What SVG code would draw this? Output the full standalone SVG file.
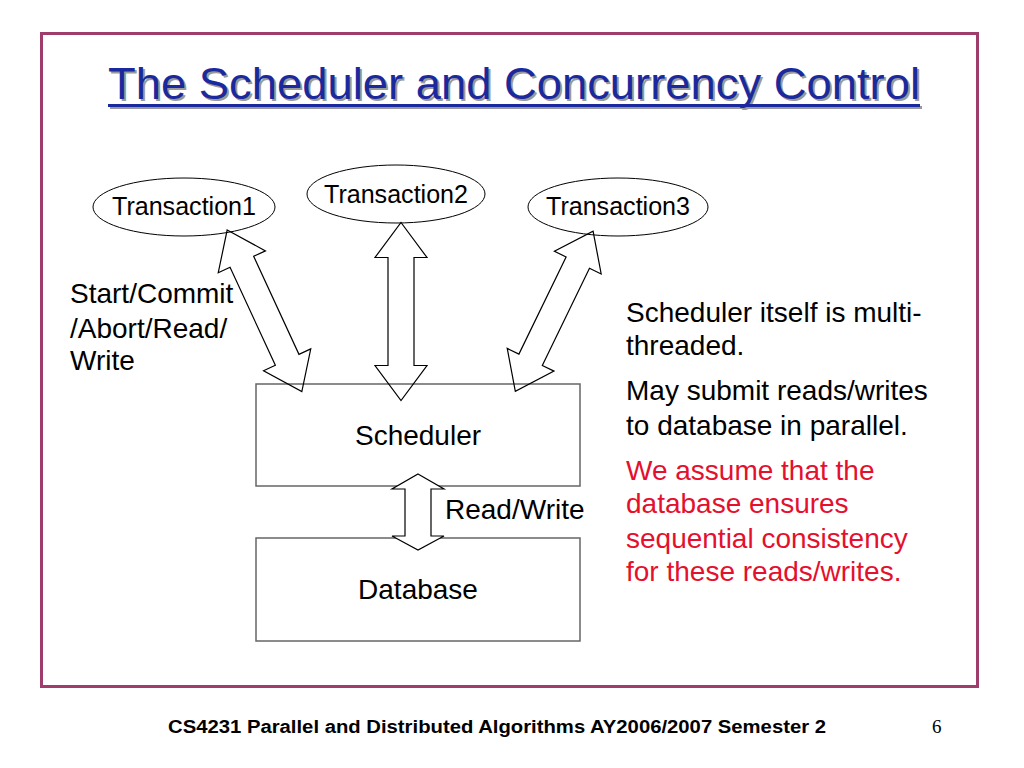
<svg xmlns="http://www.w3.org/2000/svg" width="1024" height="768" viewBox="0 0 1024 768">
<defs>
<style>
.t{font-family:"Liberation Sans",Arial,sans-serif;fill:#000}
.lbl{font-size:28px}
.tr{font-size:25px;text-anchor:middle}
.red{fill:#E4102E}
.ell{fill:none;stroke:#000;stroke-width:1}
.box{fill:none;stroke:#666;stroke-width:1.5}
.arr{fill:none;stroke:#000;stroke-width:1.2;stroke-linejoin:miter}
.arrw{fill:#fff;stroke:#000;stroke-width:1.2}
</style>
<path id="dbl" d="M0,-89 L26,-54 L13,-54 L13,54 L26,54 L0,89 L-26,54 L-13,54 L-13,-54 L-26,-54 Z"/>
</defs>
<rect width="1024" height="768" fill="#fff"/>
<rect x="41.5" y="33.5" width="936" height="653" fill="none" stroke="#9E3C6C" stroke-width="3"/>
<g id="title">
<text x="110" y="101" class="t" style="font-size:45px;fill:#9a9a9a" textLength="812" lengthAdjust="spacingAndGlyphs">The Scheduler and Concurrency Control</text>
<rect x="110" y="106" width="812" height="3" fill="#9a9a9a"/>
<text x="108" y="99" class="t" style="font-size:45px;fill:#1A2A9E" textLength="812" lengthAdjust="spacingAndGlyphs">The Scheduler and Concurrency Control</text>
<rect x="108" y="104" width="812" height="3" fill="#1A2A9E"/>
</g>
<g id="transaction1">
<ellipse class="ell" cx="184" cy="207" rx="91" ry="29"/>
<text class="t tr" x="184" y="215" textLength="144" lengthAdjust="spacingAndGlyphs">Transaction1</text>
</g>
<g id="transaction2">
<ellipse class="ell" cx="396" cy="194" rx="89" ry="29"/>
<text class="t tr" x="396" y="203" textLength="144" lengthAdjust="spacingAndGlyphs">Transaction2</text>
</g>
<g id="transaction3">
<ellipse class="ell" cx="618" cy="207" rx="90" ry="29"/>
<text class="t tr" x="618" y="215" textLength="144" lengthAdjust="spacingAndGlyphs">Transaction3</text>
</g>
<g id="scheduler">
<rect class="box" x="256" y="384" width="324" height="102"/>
<text class="t lbl" x="418" y="445" text-anchor="middle">Scheduler</text>
</g>
<g id="database">
<rect class="box" x="256" y="538" width="324" height="103"/>
<text class="t lbl" x="418" y="599" text-anchor="middle">Database</text>
</g>
<g id="connectors">
<use href="#dbl" class="arr" transform="translate(264.5,310.8) rotate(-24.8)"/>
<use href="#dbl" class="arr" transform="translate(401,311.5)"/>
<use href="#dbl" class="arr" transform="translate(554.2,311.2) rotate(25.9)"/>
<path class="arrw" d="M418,474 L444,489 L431,489 L431,536 L444,536 L418,550 L392,536 L405,536 L405,489 L392,489 Z"/>
</g>
<g id="labels">
<text class="t lbl" x="70" y="303">Start/Commit</text>
<text class="t lbl" x="70" y="338">/Abort/Read/</text>
<text class="t lbl" x="70" y="370">Write</text>
<text class="t lbl" x="445" y="519">Read/Write</text>
</g>
<g id="notes">
<text class="t lbl" x="626" y="322">Scheduler itself is multi-</text>
<text class="t lbl" x="626" y="355">threaded.</text>
<text class="t lbl" x="626" y="400">May submit reads/writes</text>
<text class="t lbl" x="626" y="435">to database in parallel.</text>
<text class="t lbl red" x="626" y="480">We assume that the</text>
<text class="t lbl red" x="626" y="513">database ensures</text>
<text class="t lbl red" x="626" y="548">sequential consistency</text>
<text class="t lbl red" x="626" y="581">for these reads/writes.</text>
</g>
<g id="footer">
<text class="t" x="168" y="733" style="font-size:18px;font-weight:bold" textLength="658" lengthAdjust="spacingAndGlyphs">CS4231 Parallel and Distributed Algorithms AY2006/2007 Semester 2</text>
<text x="932" y="733" style="font-family:'Liberation Serif',serif;font-size:19px">6</text>
</g>
</svg>
